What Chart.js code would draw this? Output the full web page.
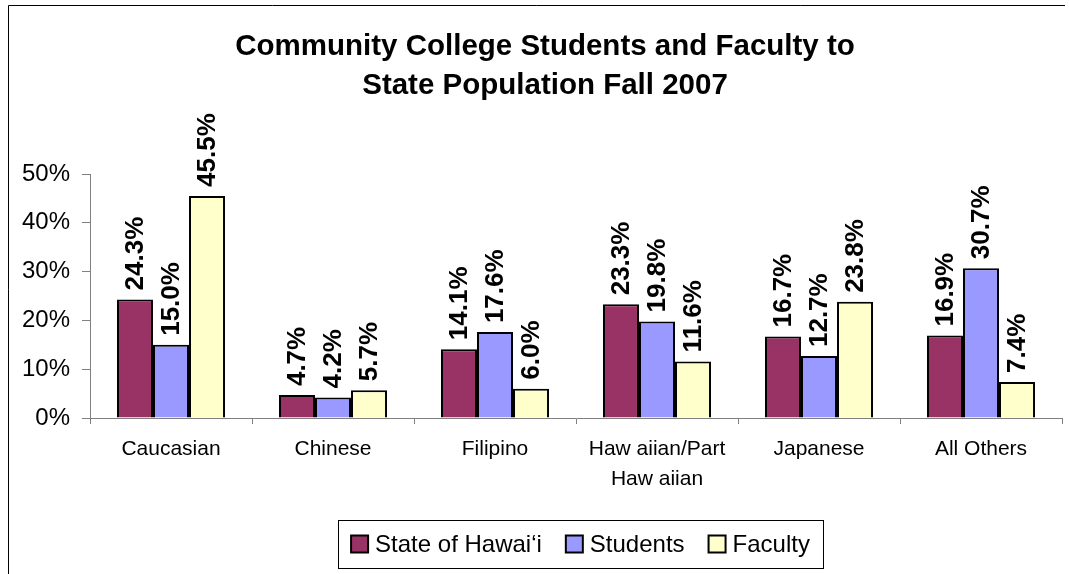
<!DOCTYPE html>
<html>
<head>
<meta charset="utf-8">
<script src="https://cdn.jsdelivr.net/npm/chart.js@4/dist/chart.umd.min.js"></script>
<style>
html,body{margin:0;padding:0;background:#fff;}
#wrap{width:1069px;height:574px;position:relative;}
</style>
</head>
<body>
<div id="wrap"><canvas id="c" width="1069" height="574"></canvas></div>
<script>
const categories = ["Caucasian", "Chinese", "Filipino", ["Haw aiian/Part", "Haw aiian"], "Japanese", "All Others"];
const stateOfHawaii = [24.3, 4.7, 14.1, 23.3, 16.7, 16.9];
const students = [15.0, 4.2, 17.6, 19.8, 12.7, 30.7];
const faculty = [45.5, 5.7, 6.0, 11.6, 23.8, 7.4];
const seriesNames = ["State of Hawai\u2018i", "Students", "Faculty"];
const yTicks = [0, 10, 20, 30, 40, 50];
const titleLines = ["Community College Students and Faculty to", "State Population Fall 2007"];

const FONT = "Arial, 'Liberation Sans', Helvetica, sans-serif";
const colors = ["#993366", "#9999FF", "#FFFFCC"];

const framePlugin = {
  id: 'frame',
  beforeDraw(chart) {
    const ctx = chart.ctx;
    ctx.save();
    ctx.fillStyle = '#fff';
    ctx.fillRect(0, 0, chart.width, chart.height);
    ctx.strokeStyle = '#000';
    ctx.lineWidth = 1;
    ctx.beginPath();
    ctx.moveTo(8.5, 574);
    ctx.lineTo(8.5, 5.5);
    ctx.lineTo(1065, 5.5);
    ctx.stroke();
    ctx.restore();
  }
};

const titlePlugin = {
  id: 'centerTitle',
  afterDraw(chart) {
    const ctx = chart.ctx;
    ctx.save();
    ctx.font = "bold 29.5px " + FONT;
    ctx.fillStyle = '#000';
    ctx.textAlign = 'center';
    ctx.textBaseline = 'middle';
    titleLines.forEach((t, i) => ctx.fillText(t, 545, 47 + i * 39));
    ctx.restore();
  }
};

const labelPlugin = {
  id: 'barLabels',
  afterDatasetsDraw(chart) {
    const ctx = chart.ctx;
    ctx.save();
    ctx.font = "bold 26px " + FONT;
    ctx.fillStyle = '#000';
    ctx.textAlign = 'left';
    ctx.textBaseline = 'middle';
    chart.data.datasets.forEach((ds, di) => {
      const meta = chart.getDatasetMeta(di);
      meta.data.forEach((bar, i) => {
        const v = ds.data[i];
        ctx.save();
        ctx.translate(bar.x + 1, bar.y - 9);
        ctx.rotate(-Math.PI / 2);
        ctx.fillText(v.toFixed(1) + '%', 0, 0);
        ctx.restore();
      });
    });
    ctx.restore();
  }
};

const legendPlugin = {
  id: 'boxLegend',
  afterDraw(chart) {
    const ctx = chart.ctx;
    ctx.save();
    const bx = 338, by = 520, bw = 485, bh = 48;
    ctx.strokeStyle = '#000';
    ctx.lineWidth = 1;
    ctx.strokeRect(bx + 0.5, by + 0.5, bw, bh);
    ctx.font = "24px " + FONT;
    const sq = 17, gapT = 7, gapI = 24;
    const widths = chart.data.datasets.map(d => ctx.measureText(d.label).width);
    let total = widths.reduce((a, b) => a + b, 0) + chart.data.datasets.length * (sq + gapT) + (chart.data.datasets.length - 1) * gapI;
    let x = bx + (bw - total) / 2;
    const cy = by + bh / 2;
    ctx.textBaseline = 'middle';
    ctx.textAlign = 'left';
    chart.data.datasets.forEach((d, i) => {
      ctx.fillStyle = d.backgroundColor;
      ctx.fillRect(x, cy - sq / 2, sq, sq);
      ctx.strokeStyle = '#000';
      ctx.lineWidth = 2;
      ctx.strokeRect(x, cy - sq / 2, sq, sq);
      ctx.fillStyle = '#000';
      ctx.fillText(d.label, x + sq + gapT, cy + 1);
      x += sq + gapT + widths[i] + gapI;
    });
    ctx.restore();
  }
};

new Chart(document.getElementById('c'), {
  type: 'bar',
  data: {
    labels: categories,
    datasets: [
      { label: seriesNames[0], data: stateOfHawaii, backgroundColor: colors[0] },
      { label: seriesNames[1], data: students, backgroundColor: colors[1] },
      { label: seriesNames[2], data: faculty, backgroundColor: colors[2] }
    ].map(d => Object.assign(d, { borderColor: '#000', borderWidth: 2, borderSkipped: 'bottom', categoryPercentage: 0.667, barPercentage: 1.0 }))
  },
  options: {
    responsive: false,
    animation: false,
    devicePixelRatio: 1,
    layout: { padding: { left: 8, right: 7, top: 174, bottom: 0 } },
    plugins: {
      legend: { display: false },
      tooltip: { enabled: false },
      title: { display: false }
    },
    scales: {
      x: {
        offset: true,
        grid: { display: true, drawOnChartArea: false, offset: true, tickLength: 6, color: '#808080', tickColor: '#808080' },
        border: { display: true, color: '#808080', width: 1 },
        ticks: { color: '#000', font: { family: FONT, size: 21, lineHeight: 1.45 }, padding: 10, maxRotation: 0, autoSkip: false },
        afterFit(scale) { scale.height = 156; }
      },
      y: {
        min: 0, max: 50,
        afterBuildTicks(scale) { scale.ticks = yTicks.map(v => ({ value: v })); },
        grid: { display: true, drawOnChartArea: false, tickLength: 8, color: '#808080', tickColor: '#808080' },
        border: { display: true, color: '#808080', width: 1 },
        ticks: { color: '#000', font: { family: FONT, size: 24 }, padding: 12, callback: v => v + '%' },
        afterFit(scale) { scale.width = 82; }
      }
    }
  },
  plugins: [framePlugin, titlePlugin, labelPlugin, legendPlugin]
});
</script>
</body>
</html>
